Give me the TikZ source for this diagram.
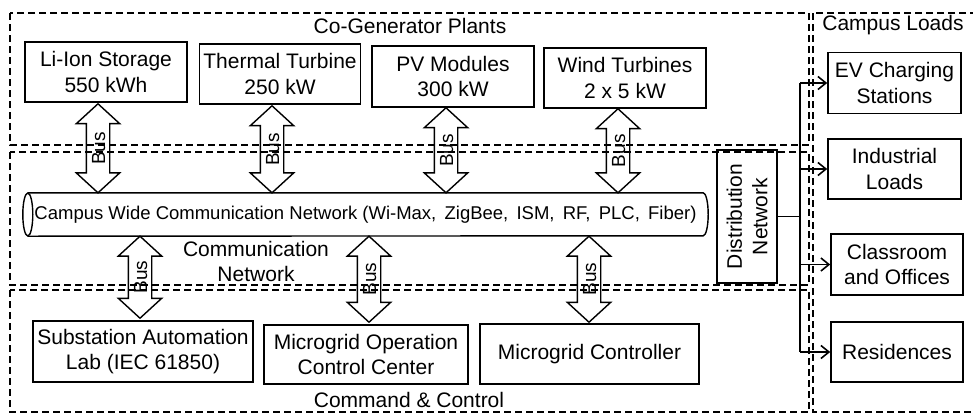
\documentclass[tikz,border=0pt]{standalone}
\usepackage{fontspec}
\setmainfont{Liberation Sans}
\usetikzlibrary{calc,shapes.arrows,arrows.meta}
\tikzset{
  region/.style={draw, dash pattern=on 7pt off 4pt, line width=1.3pt},
  box/.style={draw, line width=1.6pt, align=center, inner sep=0pt},
  title/.style={font=\fontsize{21}{25}\selectfont, align=center},
  busarrow/.style={double arrow, draw, line width=1.4pt, rotate=90,
    font=\fontsize{19}{19}\selectfont, inner xsep=1pt, inner ysep=4pt,
    text height=14pt, text depth=0pt, minimum width=42pt,
    double arrow head extend=10pt, double arrow tip angle=95},
  feed/.style={line width=1.8pt},
  feedarrow/.style={line width=1.8pt, -{Straight Barb[length=8pt, width=13pt, line width=1.6pt]}}
}
\newcommand\busar[3]{%
  \path let \p1=(#1), \p2=(#2), \n1={veclen(\x2-\x1,\y2-\y1)} in
    node[busarrow, minimum height=\n1] (#3) at ($(#1)!0.5!(#2)$) {Bus};}
\begin{document}
\begin{tikzpicture}[x=1pt,y=-1pt, font=\fontsize{21}{25.5}\selectfont]
\useasboundingbox (0,0) rectangle (973,418);
% regions
\draw[region] (10,13) rectangle (809,145);
\draw[region] (10,152) rectangle (809,285);
\draw[region] (10,290) rectangle (809,412);
\draw[region] (813,13) rectangle (980,412);
\node[title] (tcogen) at (410,26) {Co-Generator Plants};
\node[title] (tloads) at (893,25) {Campus Loads};
\node[title] (tcomm) at (256,261) {Communication\\Network};
\node[title] (tcmd) at (409,400) {Command \& Control};
% top boxes
\node[box, minimum width=162, minimum height=60] (li) at (106,72) {Li-Ion Storage\\550 kWh};
\node[box, minimum width=161, minimum height=60] (th) at (280,74) {Thermal Turbine\\250 kW};
\node[box, minimum width=162, minimum height=61] (pv) at (453,76.5) {PV Modules\\300 kW};
\node[box, minimum width=162, minimum height=60] (wt) at (625,78) {Wind Turbines\\2 x 5 kW};
% cylinder
\node[minimum width=675, minimum height=43, inner sep=0pt, font=\fontsize{18.5}{20}\selectfont] (cyl) at (365.5,214.5)
  {Campus Wide Communication Network (Wi-Max,\, ZigBee,\, ISM,\, RF,\, PLC,\, Fiber)};
\draw[line width=1.4pt] (cyl.north west) -- (cyl.north east)
  arc[start angle=90, end angle=-90, x radius=5pt, y radius=21.5pt] -- (cyl.south west);
\draw[line width=1.4pt] (cyl.west) ellipse[x radius=5pt, y radius=21.5pt];
% bottom boxes
\node[box, minimum width=220, minimum height=61] (sub) at (143,351.5) {Substation Automation\\Lab (IEC 61850)};
\node[box, minimum width=204, minimum height=59] (moc) at (366,354.5) {Microgrid Operation\\Control Center};
\node[box, minimum width=219, minimum height=60] (mgc) at (589.5,354) {Microgrid Controller};
% bus arrows
\coordinate (a1t) at ($(li.south)+(-8,1)$); \coordinate (a1b) at (a1t |- cyl.north);
\coordinate (a2t) at ($(th.south)+(-8,1)$); \coordinate (a2b) at (a2t |- cyl.north);
\coordinate (a3t) at ($(pv.south)+(-7,0)$); \coordinate (a3b) at (a3t |- cyl.north);
\coordinate (a4t) at ($(wt.south)+(-7,0)$); \coordinate (a4b) at (a4t |- cyl.north);
\busar{a1t}{a1b}{bus1}
\busar{a2t}{a2b}{bus2}
\busar{a3t}{a3b}{bus3}
\busar{a4t}{a4b}{bus4}
\coordinate (b1b) at ($(sub.north)+(-3,-2)$); \coordinate (b1t) at (b1b |- cyl.south);
\coordinate (b2b) at ($(moc.north)+(3,-2)$); \coordinate (b2t) at (b2b |- cyl.south);
\coordinate (b3b) at ($(mgc.north)+(-0.5,-1)$); \coordinate (b3t) at (b3b |- cyl.south);
\busar{b1t}{b1b}{bus5}
\busar{b2t}{b2b}{bus6}
\busar{b3t}{b3b}{bus7}
% distribution
\node[box, minimum width=60, minimum height=133] (dist) at (747,216.5) {};
\node[rotate=90, align=center] (distlbl) at (dist.center) {Distribution\\Network};
% loads
\node[box, minimum width=133, minimum height=61] (ev) at (894.5,83) {EV Charging\\Stations};
\node[box, minimum width=133, minimum height=60] (ind) at (894.5,169) {Industrial\\Loads};
\node[box, minimum width=132, minimum height=61] (cls) at (897,264.5) {Classroom\\and Offices};
\node[box, minimum width=132, minimum height=60] (res) at (897,352) {Residences};
\coordinate (busx) at (800,0);
\draw[feed] (dist.east) -- (dist.east -| busx);
\draw[feed] (ev.west -| busx) -- (res.west -| busx);
\draw[feedarrow] (ev.west -| busx) -- (ev.west);
\draw[feedarrow] (ind.west -| busx) -- (ind.west);
\draw[feedarrow] (cls.west -| busx) -- (cls.west);
\draw[feedarrow] (res.west -| busx) -- (res.west);
\end{tikzpicture}
\end{document}
